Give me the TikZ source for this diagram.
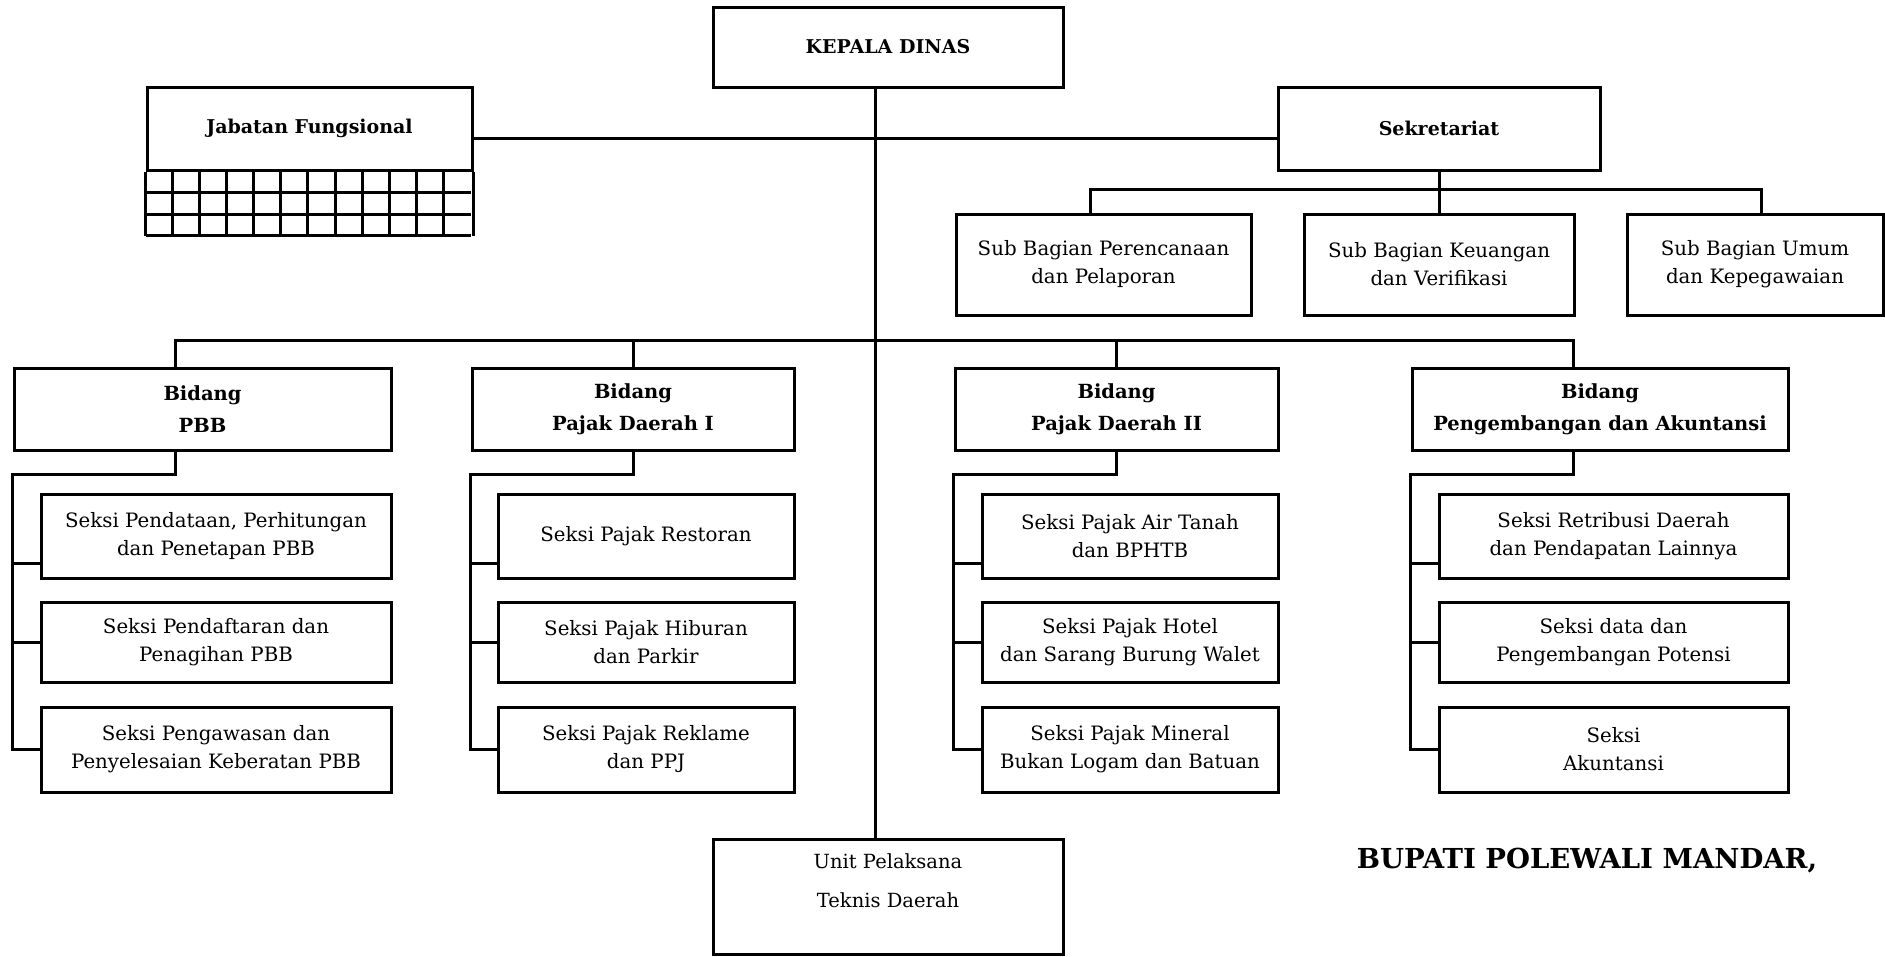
\documentclass[tikz,border=0pt]{standalone}
\usepackage{fontspec}
\setmainfont{DejaVu Serif}
\usetikzlibrary{calc}

\begin{document}
\begin{tikzpicture}[x=1pt,y=-1pt,line width=3pt]
  \useasboundingbox (0,0) rectangle (1885,956);

        \begin{scope}[every node/.style={draw, align=center, inner sep=0pt, font=\fontsize{19.8}{28}\selectfont}]
          % pimpinan dan sekretariat
          \node[minimum width=350pt, minimum height=80pt, font=\fontsize{19}{30}\selectfont\bfseries]  (kd) at (888,47)     {KEPALA DINAS};
          \node[minimum width=325pt, minimum height=83pt, font=\fontsize{19}{30}\selectfont\bfseries]  (jf) at (309.5,128.5) {Jabatan Fungsional};
          \node[minimum width=322pt, minimum height=83pt, font=\fontsize{19}{30}\selectfont\bfseries]  (sk) at (1439,128.5)  {Sekretariat};
          \node[minimum width=295pt, minimum height=101pt] (sb1) at (1103.5,264.5) {Sub Bagian Perencanaan\\dan Pelaporan};
          \node[minimum width=270pt, minimum height=101pt] (sb2) at (1439,264.5)   {Sub Bagian Keuangan\\dan Verifikasi};
          \node[minimum width=256pt, minimum height=101pt] (sb3) at (1755,264.5)   {Sub Bagian Umum\\dan Kepegawaian};

          % bidang
          \begin{scope}[every node/.append style={minimum height=82pt, font=\fontsize{19.5}{32}\selectfont\bfseries}]
            \node[minimum width=377pt] (b1) at (202.5,409) {Bidang\\PBB};
            \node[minimum width=322pt] (b2) at (633,409)   {Bidang\\Pajak Daerah I};
            \node[minimum width=323pt] (b3) at (1116.5,409) {Bidang\\Pajak Daerah II};
            \node[minimum width=376pt] (b4) at (1600,409)  {Bidang\\Pengembangan dan Akuntansi};
          \end{scope}

          % seksi
          \node[minimum width=350pt, minimum height=84pt] (s11) at (216,536)   {Seksi Pendataan, Perhitungan\\dan Penetapan PBB};
          \node[minimum width=350pt, minimum height=80pt] (s12) at (216,642.5) {Seksi Pendaftaran dan\\Penagihan PBB};
          \node[minimum width=350pt, minimum height=85pt] (s13) at (216,749.5) {Seksi Pengawasan dan\\Penyelesaian Keberatan PBB};

          \node[minimum width=296pt, minimum height=84pt] (s21) at (646,536)   {Seksi Pajak Restoran};
          \node[minimum width=296pt, minimum height=80pt] (s22) at (646,642.5) {Seksi Pajak Hiburan\\dan Parkir};
          \node[minimum width=296pt, minimum height=85pt] (s23) at (646,749.5) {Seksi Pajak Reklame\\dan PPJ};

          \node[minimum width=296pt, minimum height=84pt] (s31) at (1130,536)   {Seksi Pajak Air Tanah\\dan BPHTB};
          \node[minimum width=296pt, minimum height=80pt] (s32) at (1130,642.5) {Seksi Pajak Hotel\\dan Sarang Burung Walet};
          \node[minimum width=296pt, minimum height=85pt] (s33) at (1130,749.5) {Seksi Pajak Mineral\\Bukan Logam dan Batuan};

          \node[minimum width=349pt, minimum height=84pt] (s41) at (1613.5,536)   {Seksi Retribusi Daerah\\dan Pendapatan Lainnya};
          \node[minimum width=349pt, minimum height=80pt] (s42) at (1613.5,642.5) {Seksi data dan\\Pengembangan Potensi};
          \node[minimum width=349pt, minimum height=85pt] (s43) at (1613.5,749.5) {Seksi\\Akuntansi};

          % uptd
          \node[minimum width=350pt, minimum height=115pt, font=\fontsize{19.5}{39}\selectfont] (ut) at (888,896.5) {Unit Pelaksana\\Teknis Daerah\\[-7pt]\mbox{}};

          \node[draw=none, font=\fontsize{27.5}{30}\selectfont\bfseries] (bp) at (1587,861) {BUPATI POLEWALI MANDAR,};
        \end{scope}

        % kotak jabatan fungsional
        \foreach \i in {1,...,11}
          \draw ([xshift=\i*27.08pt]jf.south west) -- ++(0,64);
        \foreach \j in {1,2,3}
          \draw ([yshift=-\j*21.33pt]jf.south west) -- ++(325,0);
        \draw (jf.south west) -- ++(0,64);
        \draw (jf.south east) -- ++(0,64);

        % garis
        \draw ([xshift=-13pt]kd.south) -- ([xshift=-13pt]ut.north);
        \draw ([yshift=-9.5pt]jf.east) -- ([yshift=-9.5pt]sk.west);

        \draw (sk.south) -- (sb2.north);
        \draw ([xshift=-13.5pt]sb1.north) -- ++(0,-23) -| ([xshift=6pt]sb3.north);

        \draw ([xshift=-27.5pt]b1.north) -- ++(0,-26) -| ([xshift=-27pt]b4.north);
        \draw (b2.north) -- ++(0,-26);
        \draw (b3.north) -- ++(0,-26);

        \foreach \i/\dx in {1/-27.5,2/0,3/0,4/-27}{
          \draw ([xshift=\dx pt]b\i.south) -- ++(0,23) -| (s\i3.west -| b\i.west) -- (s\i3.west);
          \draw ([yshift=-27pt]s\i1.west) -- ++(-27,0);
          \draw (s\i2.west) -- ++(-27,0);
        }

      \end{tikzpicture}
\end{document}
